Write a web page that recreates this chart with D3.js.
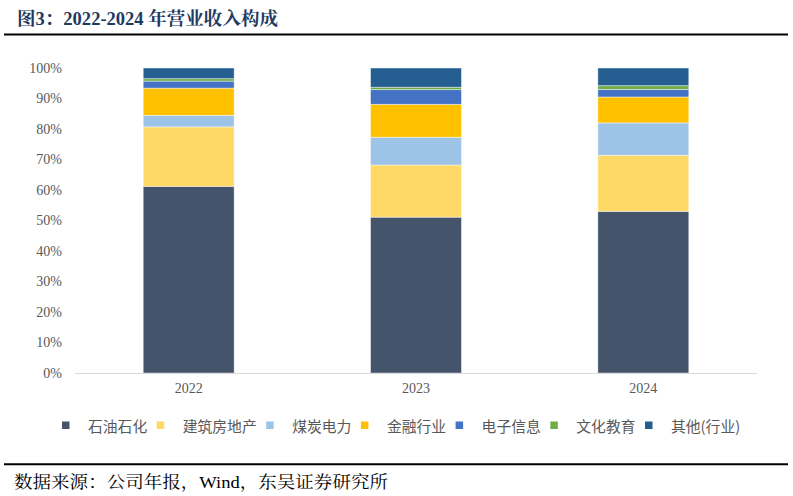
<!DOCTYPE html>
<html>
<head>
<meta charset="utf-8">
<script src="https://cdn.jsdelivr.net/npm/d3@7"></script>
<style>
  html, body { margin: 0; padding: 0; background: #fff; }
  svg { display: block; }
</style>
</head>
<body>
<svg id="chart" width="793" height="496"></svg>
<script>
// ---- data ----
const years = ["2022", "2023", "2024"];
const seriesNames = ["石油石化", "建筑房地产", "煤炭电力", "金融行业", "电子信息", "文化教育", "其他(行业)"];
const seriesColors = ["#44546A", "#FFD966", "#9DC3E6", "#FFC000", "#4472C4", "#70AD47", "#255E91"];
const petro   = [61.2, 51.1, 53.0];
const realty  = [19.5, 17.1, 18.4];
const coal    = [3.8, 9.1, 10.6];
const finance = [8.9, 10.8, 8.5];
const elec    = [2.3, 4.8, 2.5];
const culture = [0.8, 0.8, 1.2];
const others  = [3.5, 6.3, 5.8];
const yTicks = [0, 10, 20, 30, 40, 50, 60, 70, 80, 90, 100];
const titleText = "图3：2022-2024 年营业收入构成";
const sourceText = "数据来源：公司年报，Wind，东吴证券研究所";

const seriesValues = [petro, realty, coal, finance, elec, culture, others];
const table = years.map((y, i) => {
  const row = { year: y };
  seriesNames.forEach((s, k) => { row[s] = seriesValues[k][i]; });
  return row;
});

const svg = d3.select("#chart");
const serif = "'Liberation Serif', 'Noto Serif CJK SC', 'Noto Sans CJK SC', serif";
const cjk = "'Noto Sans CJK SC', 'Noto Sans', sans-serif";

// title
svg.append("text")
  .attr("x", 17).attr("y", 25)
  .attr("font-family", serif)
  .attr("font-weight", "bold")
  .attr("font-size", 18)
  .attr("fill", "#1F3A5F")
  .attr("textLength", 261)
  .attr("lengthAdjust", "spacingAndGlyphs")
  .text(titleText);
svg.append("line")
  .attr("x1", 4).attr("x2", 788).attr("y1", 34.5).attr("y2", 34.5)
  .attr("stroke", "#000").attr("stroke-width", 2);

// scales
const x = d3.scaleBand().domain(years).range([75, 757]).paddingInner(0.6).paddingOuter(0.3);
const y = d3.scaleLinear().domain([0, 100]).range([373, 68]);

// bars
const stack = d3.stack().keys(seriesNames)(table);
const g = svg.append("g");
g.selectAll("g.series")
  .data(stack)
  .join("g")
  .attr("class", "series")
  .attr("fill", (d, i) => seriesColors[i])
  .selectAll("rect")
  .data(d => d)
  .join("rect")
  .attr("x", d => x(d.data.year))
  .attr("width", x.bandwidth())
  .attr("y", d => y(d[1]))
  .attr("height", d => y(d[0]) - y(d[1]))
  .attr("stroke", "#ffffff")
  .attr("stroke-opacity", 0.55)
  .attr("stroke-width", 0.8);

// y axis (labels only)
const yAxis = d3.axisLeft(y).tickValues(yTicks).tickFormat(d => d + "%").tickSize(0).tickPadding(0);
const ya = svg.append("g").attr("transform", "translate(62,0)").call(yAxis);
ya.select(".domain").remove();
ya.selectAll("text")
  .attr("font-family", serif)
  .attr("font-size", 14)
  .attr("fill", "#595959");

// x axis
const xAxis = d3.axisBottom(x).tickSize(0).tickPadding(10);
const xa = svg.append("g").attr("transform", "translate(0,373)").call(xAxis);
xa.select(".domain").attr("stroke", "#D9D9D9").attr("stroke-width", 1)
  .attr("d", "M75,0.5H757");
xa.selectAll("text")
  .attr("font-family", serif)
  .attr("font-size", 14)
  .attr("fill", "#595959");

// legend
const legend = svg.append("g");
let lx = 62;
seriesNames.forEach((name, i) => {
  legend.append("rect")
    .attr("x", lx).attr("y", 421.5)
    .attr("width", 7.5).attr("height", 7.5)
    .attr("fill", seriesColors[i]);
  const t = legend.append("text")
    .attr("x", lx + 26).attr("y", 425)
    .attr("dominant-baseline", "central")
    .attr("font-family", cjk)
    .attr("font-size", 14.8)
    .attr("fill", "#595959")
    .text(name);
  lx = lx + 26 + t.node().getComputedTextLength() + 9.5;
});

// source
svg.append("line")
  .attr("x1", 4).attr("x2", 788).attr("y1", 464.3).attr("y2", 464.3)
  .attr("stroke", "#000").attr("stroke-width", 2);
svg.append("text")
  .attr("x", 14).attr("y", 488)
  .attr("font-family", serif)
  .attr("font-size", 16.5)
  .attr("fill", "#000")
  .attr("textLength", 374)
  .attr("lengthAdjust", "spacingAndGlyphs")
  .text(sourceText);
</script>
</body>
</html>
